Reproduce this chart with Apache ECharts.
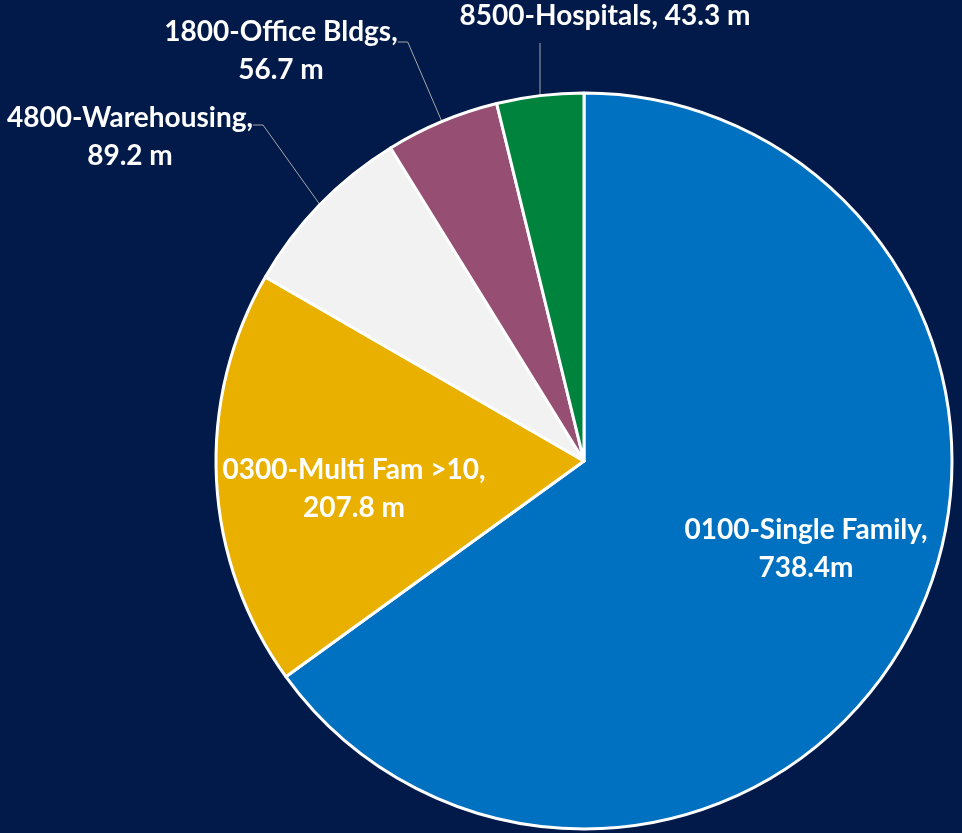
<!DOCTYPE html>
<html lang="en">
<head>
    <meta charset="UTF-8">
    <title>Pie</title>
    <script type="text/javascript" src="https://cdn.jsdelivr.net/npm/echarts@6/dist/echarts.min.js"></script>
    <style>
        html, body { margin: 0; padding: 0; background: #011a4a; }
        #main { width: 962px; height: 833px; }
    </style>
</head>
<body>
<div id="main"></div>
<script type="text/javascript">
    var categories = ['0100-Single Family', '0300-Multi Fam >10', '4800-Warehousing', '1800-Office Bldgs', '8500-Hospitals'];
    var values = [738.4, 207.8, 89.2, 56.7, 43.3];
    var valueLabels = ['738.4m', '207.8 m', '89.2 m', '56.7 m', '43.3 m'];
    var colors = ['#0070c0', '#e9b000', '#f2f2f2', '#964f72', '#00843d'];

    // label box: top-centre point and padding (padding steers where the leader line attaches)
    var labelPos = [[806, 511], [354, 451], [130, 75], [281, -5], [540, -3]];
    var labelPad = [[0, 0, 0, 0], [0, 0, 0, 0], [24, 0, 0, 0], [18, 0, 0, 0], [0, 0, 8, 130]];

    var chart = echarts.init(document.getElementById('main'));
    var data = [];
    for (var i = 0; i < categories.length; i++) {
        var inside = i < 2;
        data.push({
            name: categories[i],
            value: values[i],
            itemStyle: { color: colors[i] },
            label: { position: inside ? 'inside' : 'outside', padding: labelPad[i] },
            labelLine: { show: !inside }
        });
    }

    chart.setOption({
        backgroundColor: '#011a4a',
        animation: false,
        series: [{
            type: 'pie',
            center: [584, 461],
            radius: 368,
            startAngle: 90,
            clockwise: true,
            data: data,
            itemStyle: { borderColor: '#ffffff', borderWidth: 3 },
            label: {
                color: '#ffffff',
                fontFamily: 'Lato',
                fontWeight: 'bold',
                fontSize: 28,
                lineHeight: 38,
                align: 'center',
                overflow: 'none',
                edgeDistance: 0,
                formatter: function (p) {
                    if (p.dataIndex === 4) return p.name + ', ' + valueLabels[p.dataIndex];
                    return p.name + ',\n' + valueLabels[p.dataIndex];
                }
            },
            labelLine: {
                lineStyle: { color: '#a6a6a6', width: 1 },
                length: 20,
                length2: 10
            },
            labelLayout: function (p) {
                var pos = labelPos[p.dataIndex];
                return { x: pos[0], y: pos[1], align: 'center', verticalAlign: 'top' };
            }
        }]
    });
</script>
</body>
</html>
